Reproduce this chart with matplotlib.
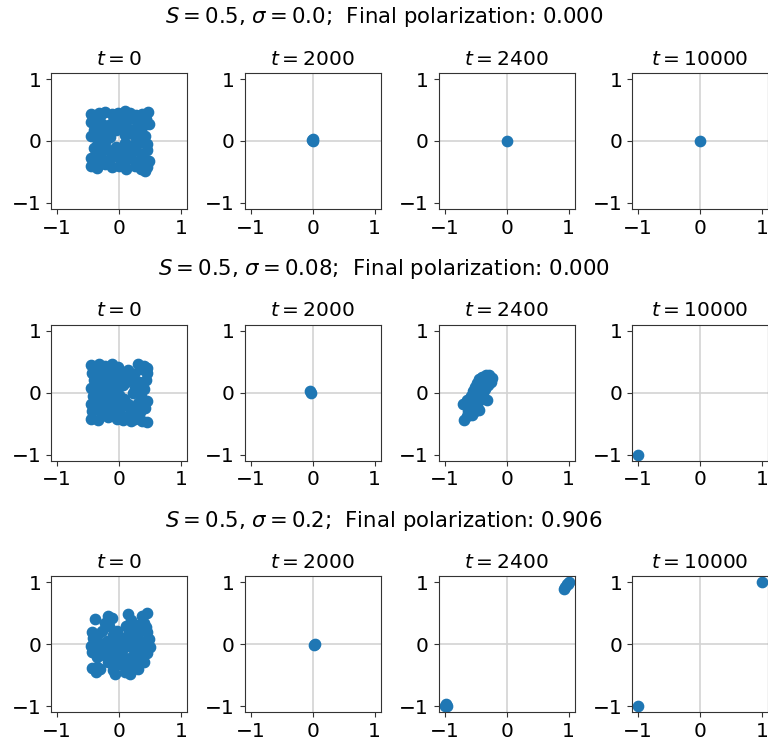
import matplotlib

matplotlib.use("Agg")
import matplotlib.pyplot as plt
import numpy as np

S_VALUE = "0.5"
SIGMAS = ["0.0", "0.08", "0.2"]
POLARIZATION = ["0.000", "0.000", "0.906"]
TIMES = [0, 2000, 2400, 10000]

# opinion positions (x, y)
SIG0_T0 = [
    (-0.42, 0.40), (-0.33, 0.45), (-0.22, 0.47), (-0.12, 0.44), (-0.02, 0.46), (0.08, 0.43),
    (0.18, 0.45), (0.28, 0.42), (0.38, 0.44), (0.47, 0.47), (-0.45, 0.30), (-0.36, 0.33),
    (-0.27, 0.28), (-0.10, 0.30), (0.02, 0.33), (0.12, 0.30), (0.30, 0.33), (0.44, 0.36),
    (-0.40, 0.18), (-0.20, 0.20), (-0.05, 0.17), (0.25, 0.20), (0.38, 0.22), (0.15, 0.15),
    (-0.46, 0.08), (-0.30, 0.04), (-0.15, 0.06), (0.10, 0.10), (0.30, 0.05), (0.42, 0.08),
    (-0.36, -0.06), (-0.22, -0.02), (0.10, -0.04), (0.22, -0.06), (0.35, -0.02),
    (-0.17, -0.15), (-0.05, -0.10), (0.12, -0.16), (0.28, -0.14), (0.45, -0.15),
    (-0.45, -0.27), (-0.30, -0.24), (-0.05, -0.25), (0.05, -0.30), (0.20, -0.28), (0.38, -0.26),
    (0.48, -0.32), (-0.46, -0.40), (-0.36, -0.44), (-0.22, -0.38), (-0.12, -0.42), (0.00, -0.40),
    (0.12, -0.45), (0.26, -0.40), (0.36, -0.45), (0.46, -0.42), (-0.08, 0.38), (0.20, 0.38),
    (-0.40, -0.12), (0.45, -0.05), (-0.25, -0.32), (-0.38, 0.24), (-0.16, 0.26), (0.06, 0.24),
    (0.34, 0.14), (-0.26, 0.12), (0.24, 0.10), (0.40, 0.00), (-0.30, -0.14), (0.05, -0.18),
    (0.20, -0.20), (0.36, -0.34), (-0.16, -0.30), (0.08, -0.38), (-0.40, -0.34), (0.48, 0.28),
    (-0.46, 0.44), (0.42, -0.48), (-0.30, 0.40), (0.10, 0.48),
]
SIG0_T2000 = [(-0.01, 0.02), (0.01, 0.04), (0.00, 0.00)]
SIG0_T2400 = [(0.00, 0.00)]
SIG0_T10000 = [(0.00, 0.00)]

SIG008_T0 = [
    (-0.45, 0.45), (-0.32, 0.46), (-0.22, 0.44), (-0.12, 0.47), (-0.02, 0.42), (0.30, 0.46),
    (0.40, 0.44), (-0.44, 0.32), (-0.30, 0.34), (-0.18, 0.35), (-0.06, 0.32), (0.10, 0.28),
    (0.24, 0.30), (0.45, 0.32), (0.36, 0.38), (-0.40, 0.20), (-0.25, 0.22), (-0.12, 0.18),
    (0.00, 0.22), (0.18, 0.22), (0.32, 0.18), (0.44, 0.20), (-0.46, 0.08), (-0.32, 0.06),
    (-0.20, 0.10), (-0.05, 0.04), (0.06, 0.12), (0.26, 0.08), (0.40, 0.06), (-0.42, -0.05),
    (-0.28, -0.02), (-0.12, -0.06), (0.00, -0.03), (0.22, 0.00), (0.36, -0.06), (-0.46, -0.18),
    (-0.36, -0.14), (-0.20, -0.20), (-0.06, -0.15), (0.15, -0.18), (0.30, -0.16), (0.46, -0.14),
    (0.42, -0.24), (-0.44, -0.30), (-0.30, -0.28), (-0.14, -0.30), (0.02, -0.26), (0.20, -0.30),
    (0.34, -0.32), (-0.46, -0.42), (-0.34, -0.44), (-0.18, -0.40), (-0.04, -0.42), (0.12, -0.40),
    (0.26, -0.43), (0.38, -0.46), (0.46, -0.48), (-0.38, 0.40), (-0.08, 0.38), (0.14, 0.36),
    (-0.34, 0.26), (-0.20, 0.28), (-0.30, 0.14), (-0.10, 0.10), (0.12, 0.18), (0.38, 0.12),
    (-0.36, -0.22), (-0.24, -0.10), (0.08, -0.10), (0.26, -0.24), (-0.08, -0.36), (0.06, -0.44),
    (0.30, -0.40), (-0.26, -0.36), (0.46, 0.40), (0.20, -0.46),
]
SIG008_T2000 = [(-0.04, 0.02), (-0.03, 0.00)]
SIG008_T2400 = [
    (-0.69, -0.44), (-0.65, -0.38), (-0.62, -0.30), (-0.60, -0.22), (-0.70, -0.18), (-0.64, -0.12),
    (-0.58, -0.05), (-0.55, 0.02), (-0.52, 0.10), (-0.48, 0.16), (-0.44, 0.22), (-0.40, 0.26),
    (-0.34, 0.28), (-0.28, 0.28), (-0.24, 0.24), (-0.26, 0.18), (-0.30, 0.12), (-0.35, 0.06),
    (-0.38, 0.00), (-0.32, -0.12), (-0.42, -0.10), (-0.48, -0.20), (-0.52, -0.30), (-0.56, -0.36),
    (-0.46, 0.02), (-0.50, -0.06), (-0.40, 0.12), (-0.36, 0.20), (-0.45, -0.28),
]
SIG008_T10000 = [(-1.00, -1.00)]

SIG02_T0 = [
    (-0.39, 0.41), (-0.18, 0.46), (-0.12, 0.42), (-0.22, 0.35), (0.15, 0.49), (0.20, 0.40),
    (0.38, 0.45), (0.45, 0.50), (0.40, 0.35), (0.30, 0.32), (-0.44, 0.20), (-0.42, 0.10),
    (-0.28, 0.22), (-0.10, 0.15), (0.02, 0.12), (0.12, 0.30), (0.16, 0.20), (0.30, 0.18),
    (0.45, 0.20), (0.48, 0.08), (-0.45, -0.02), (-0.32, 0.02), (-0.20, 0.05), (-0.06, 0.04),
    (0.08, 0.06), (0.22, 0.04), (0.36, 0.05), (0.50, -0.04), (-0.44, -0.12), (-0.30, -0.10),
    (-0.16, -0.06), (-0.02, -0.10), (0.10, -0.05), (0.25, -0.10), (0.38, -0.12), (0.46, -0.14),
    (-0.24, -0.18), (-0.08, -0.20), (0.05, -0.18), (0.18, -0.22), (0.32, -0.22), (0.40, -0.28),
    (-0.10, -0.30), (0.02, -0.32), (0.14, -0.30), (0.26, -0.34), (0.30, -0.40), (0.20, -0.40),
    (-0.44, -0.38), (-0.38, -0.44), (-0.30, -0.40), (-0.35, -0.36), (-0.10, -0.42), (-0.06, -0.48),
    (0.18, -0.48), (0.10, -0.44), (-0.16, 0.30), (0.20, 0.30), (0.44, 0.28), (-0.34, 0.16),
    (-0.04, 0.22), (0.26, 0.12), (-0.36, -0.20), (-0.18, -0.28), (0.34, -0.04), (0.14, 0.02),
    (-0.40, 0.04), (0.08, -0.24),
]
SIG02_T2000 = [(0.02, -0.01), (0.03, 0.01)]
SIG02_T2400 = [
    (-0.98, -0.97), (-0.96, -0.99), (-1.00, -1.00),
    (0.92, 0.89), (0.94, 0.93), (0.97, 0.97), (1.00, 1.00), (0.99, 0.98),
]
SIG02_T10000 = [(-1.00, -1.00), (1.00, 1.00)]

PANELS = [
    [SIG0_T0, SIG0_T2000, SIG0_T2400, SIG0_T10000],
    [SIG008_T0, SIG008_T2000, SIG008_T2400, SIG008_T10000],
    [SIG02_T0, SIG02_T2000, SIG02_T2400, SIG02_T10000],
]

FIG_W, FIG_H = 768, 740
AX_SIZE = 136
COL_CENTERS = [119, 312.7, 506.7, 700]
ROW_CENTERS = [141, 392.7, 644.3]
ROW_TITLE_Y = [17, 269, 521]

figure = plt.figure(figsize=(FIG_W / 100, FIG_H / 100), dpi=100)

for row, sigma in enumerate(SIGMAS):
    figure.text(
        0.5,
        1 - ROW_TITLE_Y[row] / FIG_H,
        rf"$S = {S_VALUE}$, $\sigma = {sigma}$;  Final polarization: {POLARIZATION[row]}",
        ha="center",
        va="center",
        fontsize=15.3,
    )
    for col, t in enumerate(TIMES):
        left = (COL_CENTERS[col] - AX_SIZE / 2) / FIG_W
        bottom = 1 - (ROW_CENTERS[row] + AX_SIZE / 2) / FIG_H
        axis = figure.add_axes([left, bottom, AX_SIZE / FIG_W, AX_SIZE / FIG_H])
        points = np.array(PANELS[row][col])
        axis.axhline(0, color="#d3d3d3", lw=1.2, zorder=0)
        axis.axvline(0, color="#d3d3d3", lw=1.2, zorder=0)
        axis.scatter(points[:, 0], points[:, 1], s=55, color="#1f77b4", zorder=2)
        axis.set_xlim(-1.1, 1.1)
        axis.set_ylim(-1.1, 1.1)
        axis.set_xticks([-1, 0, 1])
        axis.set_yticks([-1, 0, 1])
        axis.tick_params(labelsize=14.5, color="#333333")
        for spine in axis.spines.values():
            spine.set_color("#333333")
        axis.set_title(f"$t = {t}$", fontsize=14.5)

figure.savefig("out.png", dpi=100)
plt.close(figure)
